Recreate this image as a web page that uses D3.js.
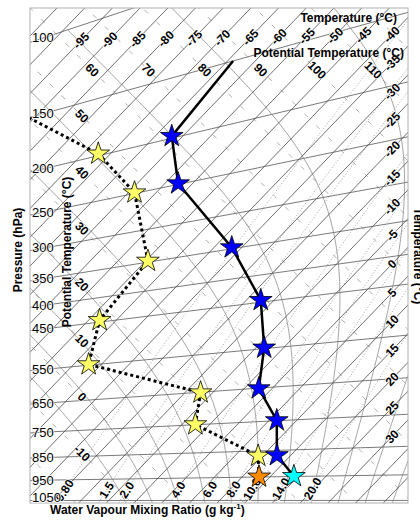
<!DOCTYPE html>
<html><head><meta charset="utf-8">
<script src="https://cdn.jsdelivr.net/npm/d3@7"></script>
<style>
html,body{margin:0;padding:0;background:#fff;overflow:hidden;}
svg{display:block;font-family:"Liberation Sans",Arial,Helvetica,sans-serif;}
</style></head><body>
<svg id="chart" width="420" height="520"></svg>
<script>
// ---------------- data (sounding) ----------------
const pressure    = [150, 198, 249, 348, 446, 548, 651, 749, 868, 949];
const temperature = [-64.0, -62.0, -52.6, -31.8, -17.4, -8.5, -2.4, 6.4, 12.5, 19.2];
const dewpoint    = [-91.0, -72.2, -58.9, -44.6, -43.0, -37.3, -12.2, -7.6, 9.2, 13.0];
const starLevels  = [1, 2, 3, 4, 5, 6, 7, 8];   // levels drawn with stars
const surfaceLevel = 9;                          // level with special stars

// ---------------- grid / tick values ----------------
const isobarLevels = [100,150,200,250,300,350,400,450,550,650,750,850,950,1050];
const isothermTopTicks = [-95,-90,-85,-80,-75,-70,-65,-60,-55,-50,-45,-40];
const isothermRightTicks = [-35,-30,-25,-20,-15,-10,-5,0,5,10,15,20,25,30];
const thetaTopTicks = [60,70,80,90,100,110];
const thetaLeftTicks = [50,40,30,20,10,0,-10];
const mixingRatios = [0.8,1.5,2.0,4.0,6.0,8.0,10.0,14.0,20.0];
const mixingLabels = ["0.80","1.5","2.0","4.0","6.0","8.0","10.0","14.0","20.0"];
const wetBulbPotTemps = [-10,-5,0,5,10,15,20,25,30,35,40];

// ---------------- tephigram geometry ----------------
const W = 420, H = 520;
const plot = {x0: 30, y0: 8, x1: 408, y1: 503};
const t1 = 1.038, t2 = 1.0;
const tScale = d3.scaleLinear().domain([-40, 30]).range([0, 70*5.75]);
const thScale = d3.scaleLinear().domain([0, 100]).range([0, 100*5.62]);
const KAPPA = 0.286;
function project(T, th) {
  const A = tScale(T) + t1*392 + 34;
  const B = thScale(th) + t2*82 - 397;
  const x = (A + B)/(t1 + t2);
  return [x, A - t1*x];
}
const thetaOf = (T, p) => (T + 273.15)*Math.pow(1000/p, KAPPA) - 273.15;
const projTP = (T, p) => project(T, thetaOf(T, p));
function esat(T){ return 6.112*Math.exp(17.67*T/(T+243.5)); }
function dewFromMix(w, p){ const e = w*p/(622+w); const l = Math.log(e/6.112); return 243.5*l/(17.67-l); }
function dTdp(T, p){
  const Tk = T+273.15, es = esat(T), rs = 0.622*es/(p-es);
  const Lv = 2.501e6, Rd = 287.04, cp = 1005.7;
  return (Rd*Tk + Lv*rs)/(cp + Lv*Lv*rs*0.622/(Rd*Tk*Tk))/p;
}
function integrate(T0, p0, p1, step){
  const out = [[T0,p0]]; let T = T0, p = p0;
  const n = Math.round(Math.abs(p1-p0)/step), h = (p1-p0)/n;
  for (let i=0;i<n;i++){
    const k1 = dTdp(T,p), k2 = dTdp(T+h*k1/2,p+h/2), k3 = dTdp(T+h*k2/2,p+h/2), k4 = dTdp(T+h*k3,p+h);
    T += h*(k1+2*k2+2*k3+k4)/6; p += h; out.push([T,p]);
  }
  return out;
}
function atY(p0, p1, y){ const f=(y-p0[1])/(p1[1]-p0[1]); return [p0[0]+f*(p1[0]-p0[0]), y]; }
function atX(p0, p1, x){ const f=(x-p0[0])/(p1[0]-p0[0]); return [x, p0[1]+f*(p1[1]-p0[1])]; }

const svg = d3.select("#chart");
svg.append("rect").attr("width",W).attr("height",H).attr("fill","#fff");
svg.append("defs").append("clipPath").attr("id","clip").append("rect")
  .attr("x",plot.x0).attr("y",plot.y0).attr("width",plot.x1-plot.x0).attr("height",plot.y1-plot.y0);
const g = svg.append("g").attr("clip-path","url(#clip)");
const line = d3.line();

// isentropes (dry adiabats) dashed
d3.range(-40, 141, 10).forEach(th => {
  g.append("path").attr("d", line([project(-140, th), project(70, th)]))
   .attr("stroke","#9a9a9a").attr("stroke-width",0.8).attr("stroke-dasharray","5,12").attr("fill","none");
});
// mixing ratio lines dotted
mixingRatios.forEach(w => {
  const pts = d3.range(1060, 99, -10).map(p => projTP(dewFromMix(w,p), p));
  g.append("path").attr("d", line(pts)).attr("stroke","#8a8a8a").attr("stroke-width",0.8)
   .attr("stroke-dasharray","1,2").attr("fill","none");
});
// saturated adiabats
wetBulbPotTemps.forEach(tw => {
  const up = integrate(tw, 1000, 100, 5), down = integrate(tw, 1000, 1070, 5);
  const pts = down.reverse().concat(up.slice(1)).map(d => projTP(d[0], d[1]));
  g.append("path").attr("d", line(pts)).attr("stroke","#8c8c8c").attr("stroke-width",0.8).attr("fill","none");
});
// isobars
isobarLevels.forEach(p => {
  g.append("path").attr("d", line([projTP(-140,p), projTP(70,p)]))
   .attr("stroke","#7a7a7a").attr("stroke-width",1).attr("fill","none");
});
// isotherms
d3.range(-120, 51, 5).forEach(T => {
  g.append("path").attr("d", line([project(T,-80), project(T,200)]))
   .attr("stroke","#4a4a4a").attr("stroke-width",0.8).attr("fill","none");
});

// frame
svg.append("rect").attr("x",plot.x0).attr("y",plot.y0).attr("width",plot.x1-plot.x0).attr("height",plot.y1-plot.y0)
  .attr("fill","none").attr("stroke","#b0b0b0").attr("stroke-width",1);

// ---------- labels ----------
const lab = svg.append("g").attr("font-weight","bold").attr("fill","#000");
function rotText(x, y, ang, txt, size){
  lab.append("text").attr("transform",`translate(${x},${y}) rotate(${ang})`)
    .attr("text-anchor","middle").attr("dy","0.35em").attr("font-size", size||12)
    .attr("stroke","#fff").attr("stroke-width",1.5).attr("paint-order","stroke").text(txt);
}
const isoAng = -Math.atan(t1)*180/Math.PI;
isothermTopTicks.forEach(T => {
  const a = project(T,-80), b = project(T,200);
  let y = 37.5, pt;
  for (let k=0;k<4;k++){ pt = atY(a,b,y); y = 40.5 - (pt[0]-80)*6/312; }
  pt = atY(a,b,y);
  rotText(pt[0], pt[1], isoAng, T);
});
isothermRightTicks.forEach(T => {
  const pt = atX(project(T,-80), project(T,200), 392);
  rotText(pt[0], pt[1], isoAng, T);
});
thetaTopTicks.forEach(th => {
  const pt = atY(project(-140,th), project(70,th), 70);
  rotText(pt[0], pt[1], 45, th);
});
thetaLeftTicks.forEach(th => {
  const pt = atX(project(-140,th), project(70,th), 82);
  rotText(pt[0], pt[1], 45, th);
});
mixingRatios.forEach((w,i) => {
  const a = projTP(dewFromMix(w,1000),1000), b = projTP(dewFromMix(w,950),950);
  const ang = Math.atan2(b[1]-a[1], b[0]-a[0])*180/Math.PI;
  rotText(a[0], a[1], ang, mixingLabels[i]);
});
// pressure labels
isobarLevels.forEach(p => {
  const pt = atX(projTP(-140,p), projTP(70,p), 45);
  lab.append("text").attr("x",32).attr("y",Math.min(pt[1],497)).attr("dy","0.35em")
    .attr("font-weight","normal").attr("font-size",13)
    .attr("stroke","#fff").attr("stroke-width",1.5).attr("paint-order","stroke").text(p);
});

// axis titles
const tt = svg.append("g").attr("font-weight","bold").attr("font-size",12).attr("fill","#000");
tt.append("text").attr("x",397).attr("y",22).attr("text-anchor","end").text("Temperature (°C)");
tt.append("text").attr("x",404).attr("y",57).attr("text-anchor","end").text("Potential Temperature (°C)");
tt.append("text").attr("transform","translate(22,250) rotate(-90)").attr("text-anchor","middle").text("Pressure (hPa)");
tt.append("text").attr("transform","translate(71,252) rotate(-90)").attr("text-anchor","middle").text("Potential Temperature (°C)");
tt.append("text").attr("transform","translate(414,256) rotate(90)").attr("text-anchor","middle").text("Temperature (°C)");
const bt = tt.append("text").attr("x",50).attr("y",514);
bt.append("tspan").text("Water Vapour Mixing Ratio (g kg");
bt.append("tspan").attr("font-size",8).attr("dy",-5).text("-1");
bt.append("tspan").attr("dy",5).text(")");

// ---------- sounding ----------
const data = pressure.map((p,i) => ({p, T: temperature[i], Td: dewpoint[i]}));
const dg = svg.append("g").attr("clip-path","url(#clip)");
dg.append("path").attr("d", line(data.map(d => projTP(d.Td, d.p))))
  .attr("fill","none").attr("stroke","#000").attr("stroke-width",3).attr("stroke-dasharray","3,3");
dg.append("path").attr("d", line(data.map(d => projTP(d.T, d.p))))
  .attr("fill","none").attr("stroke","#000").attr("stroke-width",2.5);
const star = d3.symbol().type(d3.symbolStar).size(160);
function drawStar(pt, fill){
  svg.append("path").attr("d", star()).attr("transform",`translate(${pt[0]},${pt[1]})`)
    .attr("fill",fill).attr("stroke","#000").attr("stroke-width",0.8);
}
starLevels.forEach(i => drawStar(projTP(data[i].Td, data[i].p), "#ffff66"));
starLevels.forEach(i => drawStar(projTP(data[i].T, data[i].p), "#0000ff"));
drawStar(projTP(data[surfaceLevel].Td, data[surfaceLevel].p), "#ff8c00");
drawStar(projTP(data[surfaceLevel].T, data[surfaceLevel].p), "#00ffff");
</script>
</body></html>
